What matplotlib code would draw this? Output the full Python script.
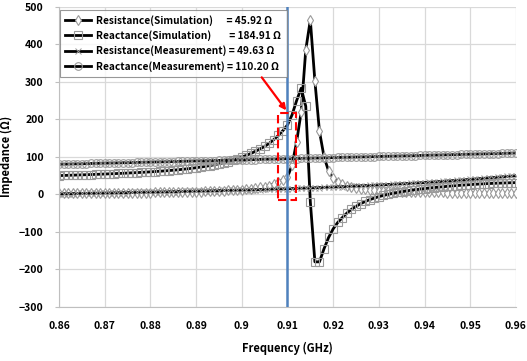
import numpy as np
import matplotlib.pyplot as plt

plt.rcParams['font.family'] = ['Noto Sans CJK KR', 'DejaVu Sans']
plt.rcParams['font.weight'] = 'bold'

# frequency axis (GHz), 0.001 GHz step
freq = np.round(np.linspace(0.86, 0.96, 101), 3)

res_sim = [3.0, 3.1, 3.1, 3.2, 3.3, 3.3, 3.4, 3.5, 3.5, 3.6, 3.7,
           3.8, 3.9, 4.0, 4.1, 4.2, 4.3, 4.4, 4.5, 4.7, 4.8,
           5.0, 5.1, 5.3, 5.5, 5.7, 5.9, 6.1, 6.4, 6.7, 7.0,
           7.3, 7.7, 8.1, 8.5, 9.0, 9.6, 10.3, 11.1, 12.0, 12.8,
           13.8, 15.0, 16.5, 18.3, 20.6, 23.6, 27.5, 32.5, 38.5, 45.92,
           78, 140, 220, 385, 465, 302, 168, 100, 62, 44,
           34, 27, 22.5, 19, 16.5, 14.5, 13, 11.8, 10.8, 10.0,
           9.3, 8.7, 8.2, 7.8, 7.4, 7.0, 6.7, 6.4, 6.1, 5.9,
           5.7, 5.5, 5.3, 5.1, 4.9, 4.8, 4.6, 4.5, 4.4, 4.3,
           4.1, 4.0, 3.9, 3.8, 3.7, 3.6, 3.5, 3.4, 3.3, 3.2]

react_sim = [50, 50.4, 50.8, 51.2, 51.6, 52.0, 52.4, 52.8, 53.3, 53.7, 54.2,
             54.7, 55.2, 55.7, 56.2, 56.8, 57.4, 58.0, 58.6, 59.3, 60.0,
             60.8, 61.6, 62.5, 63.4, 64.4, 65.5, 66.7, 68.0, 69.4, 71.0,
             72.7, 74.6, 76.7, 79.0, 81.5, 84.3, 87.4, 90.9, 94.8, 99.2,
             104, 109, 115, 121, 128, 136, 146, 157, 170, 184.91,
             212, 250, 283, 235, -20, -180, -180, -145, -115, -92,
             -75, -62, -50, -40, -32, -25, -19, -14, -10, -6,
             -3, 0, 2.5, 5, 7, 9, 11, 12.5, 14, 15.5,
             17, 18, 19.2, 20.3, 21.4, 22.4, 23.4, 24.3, 25.2, 26.0,
             26.8, 27.5, 28.2, 28.8, 29.3, 29.8, 30.2, 30.6, 31.0, 31.3]

res_meas = [1.5, 1.7, 1.9, 2.1, 2.3, 2.5, 2.7, 2.9, 3.1, 3.3, 3.5,
            3.7, 4.0, 4.2, 4.5, 4.7, 5.0, 5.2, 5.5, 5.7, 6.0,
            6.2, 6.5, 6.7, 7.0, 7.2, 7.5, 7.7, 8.0, 8.2, 8.5,
            8.8, 9.1, 9.4, 9.7, 10.0, 10.3, 10.6, 10.9, 11.2, 11.5,
            11.8, 12.2, 12.5, 12.9, 13.2, 13.6, 13.9, 14.3, 14.6, 15.0,
            15.4, 15.9, 16.3, 16.8, 17.2, 17.7, 18.1, 18.6, 19.0, 19.5,
            20.0, 20.5, 21.1, 21.6, 22.2, 22.7, 23.3, 23.8, 24.4, 25.0,
            25.6, 26.2, 26.9, 27.5, 28.2, 28.8, 29.5, 30.1, 30.8, 31.5,
            32.3, 33.1, 34.0, 34.8, 35.7, 36.5, 37.4, 38.2, 39.1, 40.0,
            40.9, 41.9, 42.8, 43.8, 44.7, 45.7, 46.7, 47.7, 48.6, 49.63]

react_meas = [80.2, 80.5, 80.7, 81.1, 81.3, 81.6, 81.9, 82.3, 82.5, 82.8, 83.1,
              83.4, 83.6, 83.9, 84.3, 84.5, 84.8, 85.1, 85.3, 85.7, 86.0,
              86.3, 86.6, 86.8, 87.2, 87.5, 87.8, 88.0, 88.4, 88.7, 89.0,
              89.3, 89.5, 89.9, 90.2, 90.5, 90.8, 91.0, 91.4, 91.7, 92.0,
              92.3, 92.5, 92.9, 93.2, 93.5, 93.8, 94.0, 94.4, 94.7, 95.0,
              95.3, 95.6, 95.8, 96.2, 96.5, 96.8, 97.0, 97.4, 97.7, 98.0,
              98.3, 98.6, 98.8, 99.2, 99.5, 99.8, 100.0, 100.4, 100.7, 101.0,
              101.3, 101.6, 101.8, 102.2, 102.5, 102.8, 103.0, 103.4, 103.7, 104.0,
              104.3, 104.6, 104.8, 105.2, 105.5, 105.8, 106.0, 106.4, 106.7, 107.0,
              107.3, 107.6, 107.8, 108.2, 108.5, 108.8, 109.0, 109.4, 109.8, 110.20]

labels = ['Resistance(Simulation)      = 45.92 \u03a9',
          'Reactance(Simulation)        = 184.91 \u03a9',
          'Resistance(Measurement) = 49.63 \u03a9',
          'Reactance(Measurement) = 110.20 \u03a9']

fig = plt.figure(figsize=(5.27, 3.61), dpi=100)
ax = fig.add_axes([0.112, 0.150, 0.867, 0.831])

mk_grey = '#9a9a9a'
ax.plot(freq, res_sim, color='black', lw=2.0, marker='d', ms=5,
        mfc='white', mec=mk_grey, mew=0.8, label=labels[0])
ax.plot(freq, react_sim, color='black', lw=2.0, marker='s', ms=6,
        mfc='none', mec=mk_grey, mew=0.8, label=labels[1])
ax.plot(freq, res_meas, color='black', lw=2.0, marker='x', ms=4,
        mec=mk_grey, mew=0.7, label=labels[2])
ax.plot(freq, react_meas, color='black', lw=2.0, marker='o', ms=5.5,
        mfc='none', mec=mk_grey, mew=0.8, label=labels[3])

# marker line at 0.91 GHz
ax.axvline(0.91, color='#4f81bd', lw=1.8, zorder=5)

# red dashed box and arrow
ax.add_patch(plt.Rectangle((0.9079, -16), 0.004, 232, fill=False,
                           ec='red', lw=1.5, ls=(0, (4, 2)), zorder=6))
ax.annotate('', xy=(0.9101, 218), xytext=(0.9040, 318),
            arrowprops=dict(arrowstyle='-|>', color='red', lw=1.6,
                            mutation_scale=9), zorder=7)

ax.set_xlim(0.86, 0.96)
ax.set_ylim(-300, 500)
ax.set_xticks(np.round(np.arange(0.86, 0.9601, 0.01), 2))
ax.set_xticklabels(['0.86', '0.87', '0.88', '0.89', '0.9', '0.91',
                    '0.92', '0.93', '0.94', '0.95', '0.96'])
ax.set_yticks(range(-300, 501, 100))
ax.grid(True, color='#d9d9d9', lw=0.9)
ax.set_axisbelow(True)
for s in ['top', 'right']:
    ax.spines[s].set_visible(False)
for s in ['left', 'bottom']:
    ax.spines[s].set_color('#bfbfbf')
ax.tick_params(axis='both', labelsize=7.5, colors='black', length=3,
               color='#bfbfbf', pad=8)
ax.tick_params(axis='x', length=0, pad=10)
for t in ax.get_xticklabels() + ax.get_yticklabels():
    t.set_fontweight('bold')

ax.set_xlabel('Frequency (GHz)', fontsize=8, fontweight='bold', labelpad=8)
ax.set_ylabel('Impedance (\u03a9)', fontsize=8, fontweight='bold', labelpad=4)

leg = ax.legend(loc='upper left', bbox_to_anchor=(0.002, 0.99),
                fontsize=7.3, frameon=True, fancybox=False,
                handlelength=2.6, borderpad=0.5, labelspacing=0.45,
                handletextpad=0.5, borderaxespad=0)
leg.get_frame().set_edgecolor('#7f7f7f')
leg.get_frame().set_linewidth(0.8)
for t in leg.get_texts():
    t.set_fontweight('bold')

fig.savefig('out.png', dpi=100)
